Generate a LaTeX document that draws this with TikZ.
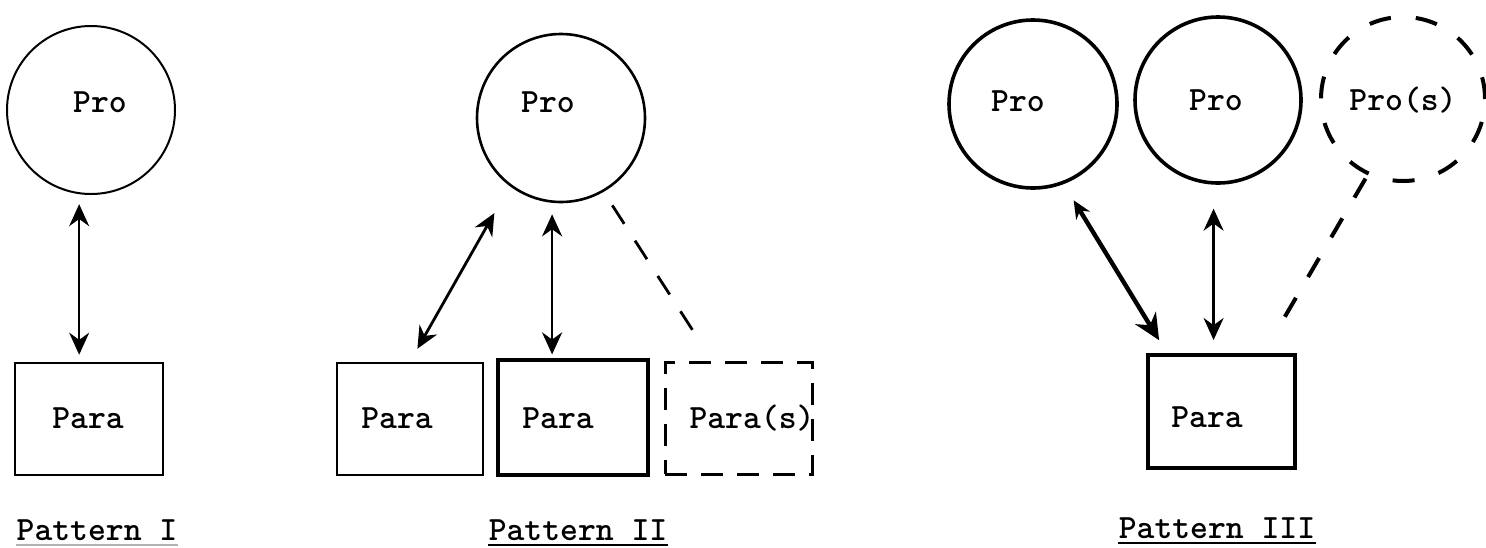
\documentclass[tikz,border=0pt]{standalone}
\usetikzlibrary{arrows.meta}
\begin{document}
\begin{tikzpicture}[x=0.5pt,y=-0.5pt]
\tikzset{
  every node/.style={font=\fontsize{17}{20}\selectfont\ttfamily\bfseries},
  procirc/.style={circle, draw, inner sep=0pt},
  parabox/.style={rectangle, draw, inner sep=0pt},
  tag/.style={anchor=base, inner sep=0pt},
  link/.style={{Stealth[length=11pt,width=10pt]}-{Stealth[length=11pt,width=10pt]}},
  dashlink/.style={dash pattern=on 11pt off 10pt},
  undl/.style={line width=1.1pt},
}
\useasboundingbox (0,0) rectangle (1486,547);

% ---------- Pattern I ----------
\node[procirc, line width=1pt, minimum size=84pt] (c1) at (91,110) {};
\node[tag] (c1t) at (100,112) {Pro};
\node[parabox, line width=1.3pt, minimum width=74pt, minimum height=56pt] (b1) at (89,419) {};
\node[tag] (b1t) at (88,428) {Para};
\draw[link, line width=1pt, shorten <=5pt, shorten >=3.5pt] (c1.262) -- (c1.262 |- b1.north);
\node[tag] (l1) at (97,540) {Pattern I};
\draw[undl, gray!60] ([yshift=-2.5pt]l1.base west) -- ([yshift=-2.5pt]l1.base east);

% ---------- Pattern II ----------
\node[procirc, line width=1.3pt, minimum size=84pt] (c2) at (561,118) {};
\node[tag] (c2t) at (548,112) {Pro};
\node[parabox, line width=1.2pt, minimum width=73pt, minimum height=56pt] (b21) at (410,419) {};
\node[parabox, line width=1.6pt, minimum width=75pt, minimum height=57.5pt] (b22) at (573,417.5) {};
\node[parabox, line width=1.5pt, dash pattern=on 11pt off 7pt, minimum width=73.5pt, minimum height=56pt] (b23) at (738.5,418) {};
\node[tag] (b21t) at (397,428) {Para};
\node[tag] (b22t) at (558,428) {Para};
\node[tag] (b23t) at (752,428) {Para(s)};
\draw[link, line width=1.4pt, shorten <=15.5pt, shorten >=7.5pt] (c2.233) -- (b21.north);
\draw[link, line width=1.4pt, shorten <=5.75pt, shorten >=2pt] (c2.264) -- (c2.264 |- b22.north);
\coordinate (d2) at (697,337);
\draw[dashlink, line width=1.4pt, shorten <=8pt] (c2.300) -- (d2);
\node[tag] (l2) at (578,540) {Pattern II};
\draw[undl] ([yshift=-2.5pt]l2.base west) -- ([yshift=-2.5pt]l2.base east);

% ---------- Pattern III ----------
\node[procirc, line width=1.8pt, minimum size=84pt] (c31) at (1033,104) {};
\node[procirc, line width=1.8pt, minimum size=83pt] (c32) at (1218,100) {};
\node[procirc, line width=2pt, dash pattern=on 11pt off 12.5pt, minimum size=82pt] (c33) at (1403,99) {};
\node[tag] (c31t) at (1018,111) {Pro};
\node[tag] (c32t) at (1216,110) {Pro};
\node[tag] (c33t) at (1403,110) {Pro(s)};
\node[parabox, line width=2pt, minimum width=73.5pt, minimum height=56.5pt] (b3) at (1221.5,411.5) {};
\node[tag] (b3t) at (1207,427) {Para};
\draw[line width=2.2pt, {Stealth[length=9pt,width=8pt]}-{Stealth[length=13pt,width=12pt]}, shorten <=9.5pt, shorten >=7.5pt] (c31.291) -- (b3.133);
\draw[link, line width=1.2pt, shorten <=12pt, shorten >=6.5pt] (c32.267) -- (c32.267 |- b3.north);
\coordinate (d3) at (1273,337);
\draw[line width=2pt, dash pattern=on 11pt off 12pt, shorten <=2pt] (c33.245) -- (d3);
\node[tag] (l3) at (1217,538) {Pattern III};
\draw[undl] ([yshift=-2.5pt]l3.base west) -- ([yshift=-2.5pt]l3.base east);
\end{tikzpicture}
\end{document}
